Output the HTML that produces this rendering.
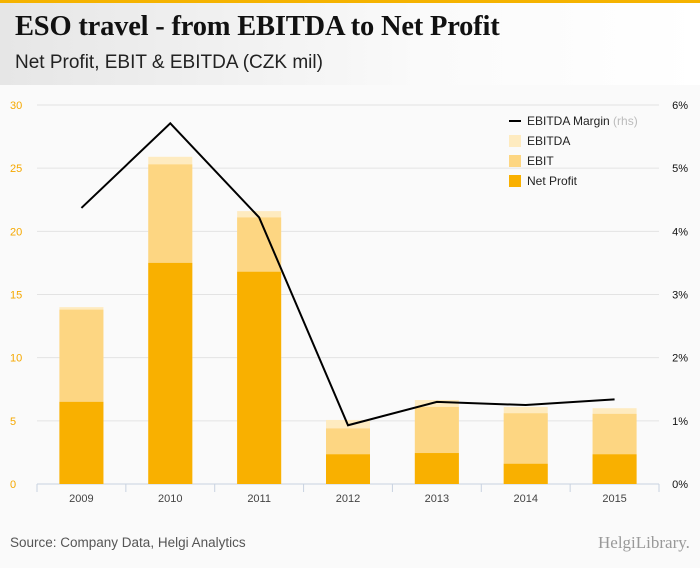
<!DOCTYPE html>
<html><head><meta charset="utf-8"><style>
body{margin:0;width:700px;height:568px;background:#fafafa;font-family:"Liberation Sans",sans-serif;overflow:hidden;position:relative}
#hdr{position:absolute;left:0;top:0;width:700px;height:85px;background:linear-gradient(90deg,#e6e6e6,#fafafa 60%,#fff)}
#bar{position:absolute;left:0;top:0;width:700px;height:3px;background:#f5b300}
#title{position:absolute;left:15px;top:11px;font:bold 28.5px "Liberation Serif",serif;color:#111;letter-spacing:-0.2px}
#sub{position:absolute;left:15px;top:52px;font:19px "Liberation Sans",sans-serif;color:#222}
#src{position:absolute;left:10px;top:535px;font:13.5px "Liberation Sans",sans-serif;color:#555}
#logo{position:absolute;left:598px;top:533px;font:17px "Liberation Serif",serif;color:#999}
svg{position:absolute;left:0;top:0}
</style></head><body>
<div id="hdr"></div>
<div id="bar"></div>
<div id="title">ESO travel - from EBITDA to Net Profit</div>
<div id="sub">Net Profit, EBIT &amp; EBITDA (CZK mil)</div>
<div id="src">Source: Company Data, Helgi Analytics</div>
<div id="logo">HelgiLibrary.</div>
<svg id="chart" width="700" height="568"></svg>
<script>
const years=["2009","2010","2011","2012","2013","2014","2015"];
const netProfit=[6.5,17.5,16.8,2.35,2.45,1.6,2.35];
const ebit=[13.8,25.3,21.1,4.4,6.1,5.6,5.55];
const ebitda=[14.0,25.9,21.6,5.07,6.65,6.1,6.0];
const margin=[4.37,5.71,4.22,0.93,1.30,1.25,1.34];
const leftTicks=[0,5,10,15,20,25,30];
const rightTicks=["0%","1%","2%","3%","4%","5%","6%"];
const NS="http://www.w3.org/2000/svg";
const svg=document.getElementById('chart');
const x0=37,x1=659,y0=484,y1=105;
const band=(x1-x0)/years.length;
const y=v=>y0-(v/30)*(y0-y1);
const yr=v=>y0-(v/6)*(y0-y1);
const xc=i=>x0+band*(i+0.5);
function mk(t,a){const e=document.createElementNS(NS,t);for(const k in a)e.setAttribute(k,a[k]);svg.appendChild(e);return e;}
leftTicks.forEach((t,i)=>{
 const g=mk('line',{x1:x0,x2:x1,y1:y(t),y2:y(t),stroke:i==0?'#c8d2e0':'#e3e3e3','stroke-width':1});
 
 const l=mk('text',{x:10,y:y(t)+4,'font-size':11,fill:'#f5a800','font-family':'Liberation Sans'});l.textContent=t;
 
 const r=mk('text',{x:688,y:yr(i)+4,'font-size':11,fill:'#111','text-anchor':'end','font-family':'Liberation Sans'});r.textContent=rightTicks[i];
 
});
years.forEach((yv,i)=>{
 const tk=mk('line',{x1:x0+band*i,x2:x0+band*i,y1:y0,y2:y0+8,stroke:'#c8d2e0'});
 
 const bw=44,bx=xc(i)-bw/2;
 const a=mk('rect',{x:bx,width:bw,y:y(ebitda[i]),height:y(0)-y(ebitda[i]),fill:'#feebc0'});
 
 const b=mk('rect',{x:bx,width:bw,y:y(ebit[i]),height:y(0)-y(ebit[i]),fill:'#fdd682'});
 
 const c=mk('rect',{x:bx,width:bw,y:y(netProfit[i]),height:y(0)-y(netProfit[i]),fill:'#f9b000'});
 
 const l=mk('text',{x:xc(i),y:502,'font-size':11,fill:'#444','text-anchor':'middle','font-family':'Liberation Sans'});l.textContent=yv;
 
});
const tk=mk('line',{x1:x1,x2:x1,y1:y0,y2:y0+8,stroke:'#c8d2e0'});

const pl=mk('polyline',{points:margin.map((m,i)=>xc(i)+','+yr(m)).join(' '),fill:'none',stroke:'#000','stroke-width':2});

const leg=[["EBITDA Margin","line"],["EBITDA","#feebc0"],["EBIT","#fdd682"],["Net Profit","#f9b000"]];
leg.forEach((L,i)=>{
 const ly=121+i*20;
 let s;
 if(L[1]=="line"){s=mk('line',{x1:509,x2:521,y1:ly,y2:ly,stroke:'#000','stroke-width':2});}
 else s=mk('rect',{x:509,y:ly-6,width:12,height:12,fill:L[1]});
 
 const t=mk('text',{x:527,y:ly+4,'font-size':12,fill:'#222','font-family':'Liberation Sans'});
 t.textContent=L[0];
 if(i==0){const sp=document.createElementNS(NS,'tspan');sp.setAttribute('fill','#bbb');sp.textContent=' (rhs)';t.appendChild(sp);}
 
});
</script>
</body></html>
